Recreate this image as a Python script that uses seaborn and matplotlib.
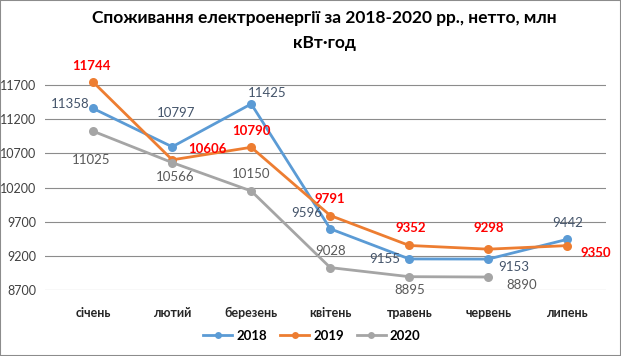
import matplotlib
matplotlib.use("Agg")
import matplotlib.pyplot as plt
import seaborn as sns
import numpy as np
import pandas as pd

months = ["січень", "лютий", "березень", "квітень", "травень", "червень", "липень"]
years = ["2018", "2019", "2020"]
cons_2018 = [11358, 10797, 11425, 9596, 9155, 9153, 9442]
cons_2019 = [11744, 10606, 10790, 9791, 9352, 9298, 9350]
cons_2020 = [11025, 10566, 10150, 9028, 8895, 8890, np.nan]
y_ticks = [8700, 9200, 9700, 10200, 10700, 11200, 11700]

colors = {"2018": "#5B9BD5", "2019": "#ED7D31", "2020": "#A5A5A5"}
label_colors = {"2018": "#44546A", "2019": "#FF0000", "2020": "#595959"}

# label offsets in pixels (dx, dy) per point
offsets = {
    "2018": [(-23, 4), (4, 34), (16, 11), (-23, 16), (-25, 0), (25, -8), (0, 16)],
    "2019": [(-2, 16), (35, 11), (0, 16), (0, 17), (1, 17), (0, 21), (29, -7)],
    "2020": [(-2, -29), (3, -14), (0, 17), (0, 17), (0, -13), (33, -8), (0, 0)],
}

series = {"2018": cons_2018, "2019": cons_2019, "2020": cons_2020}
df = pd.DataFrame(
    [(m, y, v) for y in years for m, v in zip(months, series[y])],
    columns=["month", "year", "value"],
).dropna()

plt.rcParams["font.family"] = ["Lato", "DejaVu Sans"]
fig = plt.figure(figsize=(6.21, 3.56), dpi=100)
ax = fig.add_axes([45 / 621, 1 - 290 / 356, (606 - 45) / 621, (290 - 51) / 356])

sns.lineplot(data=df, x="month", y="value", hue="year", palette=colors,
             marker="o", markersize=6.5, markeredgewidth=0, linewidth=2,
             sort=False, ax=ax, legend=False)

ax.set_xlim(-0.61, 6.49)
ax.set_ylim(8700, 12200)
ax.set_yticks(y_ticks)
ax.set_yticklabels([str(t) for t in y_ticks], fontsize=9, color="#404040")
ax.set_xticks(range(len(months)))
ax.set_xticklabels(months, fontsize=9, fontweight="bold", color="#262626")
ax.tick_params(length=0, pad=6)
ax.tick_params(axis="x", pad=12)
ax.grid(axis="y", color="#8C8C8C", linewidth=0.8)
ax.set_axisbelow(True)
for s in ax.spines.values():
    s.set_visible(False)
ax.set_xlabel("")
ax.set_ylabel("")

for y in years:
    for i, v in enumerate(series[y]):
        if np.isnan(v):
            continue
        dx, dy = offsets[y][i]
        ax.annotate(str(int(v)), (i, v), xytext=(dx, dy), textcoords="offset pixels",
                    ha="center", va="center", fontsize=9.5,
                    color=label_colors[y],
                    fontweight="bold" if y == "2019" else "normal")

fig.text(0.523, 1 - 18 / 356, "Споживання електроенергії за 2018-2020 рр., нетто, млн",
         ha="center", va="center", fontsize=12.5, fontweight="bold")
fig.text(0.523, 1 - 43 / 356, "кВт·год", ha="center", va="center",
         fontsize=12.5, fontweight="bold")

handles = [plt.Line2D([], [], color=colors[y], marker="o", markersize=5,
                      markeredgewidth=0, linewidth=2) for y in years]
leg = fig.legend(handles, years, loc="center", bbox_to_anchor=(312 / 621, 1 - 336 / 356),
                 ncol=3, frameon=False, handlelength=2.2, handletextpad=0.3,
                 columnspacing=1.0, prop={"weight": "bold", "size": 9.5})

fig.patches.append(plt.Rectangle((0, 0), 1, 1, transform=fig.transFigure,
                                 fill=False, edgecolor="#8C8C8C", linewidth=1.5))

fig.savefig("out.png", dpi=100)
